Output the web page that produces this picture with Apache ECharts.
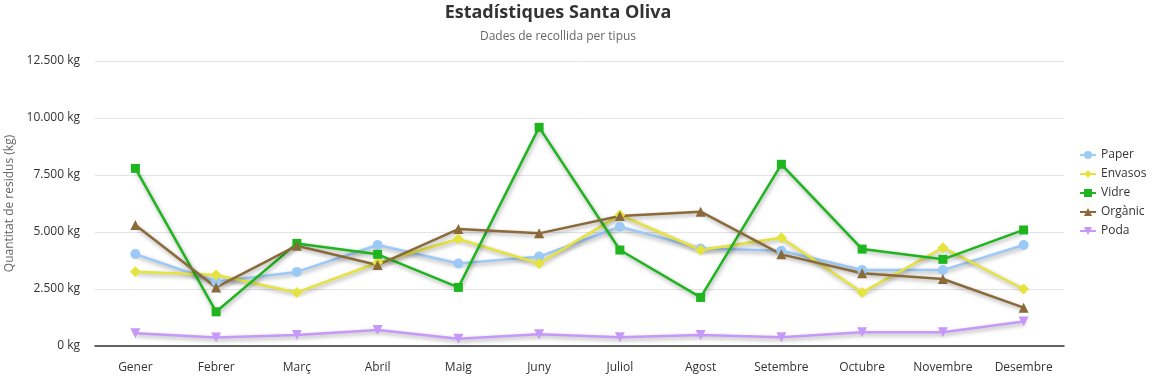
<!DOCTYPE html>
<html>
<head>
<meta charset="utf-8">
<script src="https://cdn.jsdelivr.net/npm/echarts@6/dist/echarts.min.js"></script>
<style>
  html, body { margin: 0; padding: 0; background: #fff; }
  #chart { width: 1157px; height: 377px; }
</style>
</head>
<body>
<div id="chart"></div>
<script>
const months = ['Gener', 'Febrer', 'Març', 'Abril', 'Maig', 'Juny', 'Juliol', 'Agost', 'Setembre', 'Octubre', 'Novembre', 'Desembre'];

const paper = [4030, 2820, 3250, 4430, 3620, 3920, 5230, 4280, 4180, 3330, 3330, 4430];
const envasos = [3260, 3110, 2350, 3650, 4690, 3620, 5750, 4210, 4750, 2350, 4310, 2500];
const vidre = [7790, 1500, 4500, 4020, 2570, 9590, 4210, 2130, 7970, 4250, 3800, 5090];
const organic = [5310, 2570, 4400, 3550, 5130, 4940, 5700, 5890, 4020, 3190, 2940, 1680];
const poda = [560, 370, 480, 700, 320, 510, 380, 480, 380, 600, 600, 1070];

const SERIES_DEFS = [
  { name: 'Paper', data: paper, color: '#9cc9f6', symbol: 'circle', size: 10 },
  { name: 'Envasos', data: envasos, color: '#e5e33d', symbol: 'diamond', size: 11 },
  { name: 'Vidre', data: vidre, color: '#1fb51f', symbol: 'rect', size: 9 },
  { name: 'Orgànic', data: organic, color: '#8b6a39', symbol: 'triangle', size: 10 },
  { name: 'Poda', data: poda, color: '#c598f9', symbol: 'triangle', size: 10, rotate: 180 }
];

const FONT = 'Open Sans';

function fmtKg(v) {
  return String(v).replace(/\B(?=(\d{3})+(?!\d))/g, '.') + ' kg';
}

const chart = echarts.init(document.getElementById('chart'));

chart.setOption({
  animation: false,
  textStyle: { fontFamily: FONT },
  title: {
    text: 'Estadístiques Santa Oliva',
    subtext: 'Dades de recollida per tipus',
    left: 553,
    textAlign: 'center',
    top: -1,
    itemGap: 9,
    textStyle: { fontFamily: FONT, fontSize: 18, fontWeight: 'bold', color: '#333' },
    subtextStyle: { fontFamily: FONT, fontSize: 12, color: '#666' }
  },
  legend: {
    orient: 'vertical',
    left: 1074,
    top: 144,
    itemWidth: 16,
    itemHeight: 10,
    itemGap: 7,
    textStyle: { fontFamily: FONT, fontSize: 12, color: '#333' },
    data: SERIES_DEFS.map(s => s.name)
  },
  grid: {
    left: 95,
    right: 93,
    top: 61,
    bottom: 31,
    containLabel: false,
    outerBoundsMode: 'none'
  },
  xAxis: {
    type: 'category',
    data: months,
    axisTick: { show: false },
    axisLine: { lineStyle: { color: '#333', width: 1.5 } },
    axisLabel: { color: '#333', fontSize: 12, margin: 16, fontFamily: FONT }
  },
  yAxis: {
    type: 'value',
    min: 0,
    max: 12500,
    interval: 2500,
    name: 'Quantitat de residus (kg)',
    nameLocation: 'middle',
    nameGap: 76,
    nameTextStyle: { color: '#666', fontSize: 12, fontFamily: FONT },
    axisLine: { show: false },
    axisTick: { show: false },
    splitLine: { lineStyle: { color: '#e3e3e3' } },
    axisLabel: { color: '#333', fontSize: 12, margin: 15, fontFamily: FONT, formatter: fmtKg }
  },
  series: SERIES_DEFS.map(s => ({
    name: s.name,
    type: 'line',
    data: s.data,
    symbol: s.symbol,
    symbolSize: s.size,
    symbolRotate: s.rotate || 0,
    color: s.color,
    lineStyle: {
      width: 2.5,
      color: s.color,
      shadowColor: 'rgba(0,0,0,0.35)',
      shadowBlur: 4,
      shadowOffsetX: 1,
      shadowOffsetY: 2
    },
    itemStyle: { color: s.color }
  }))
});
</script>
</body>
</html>
